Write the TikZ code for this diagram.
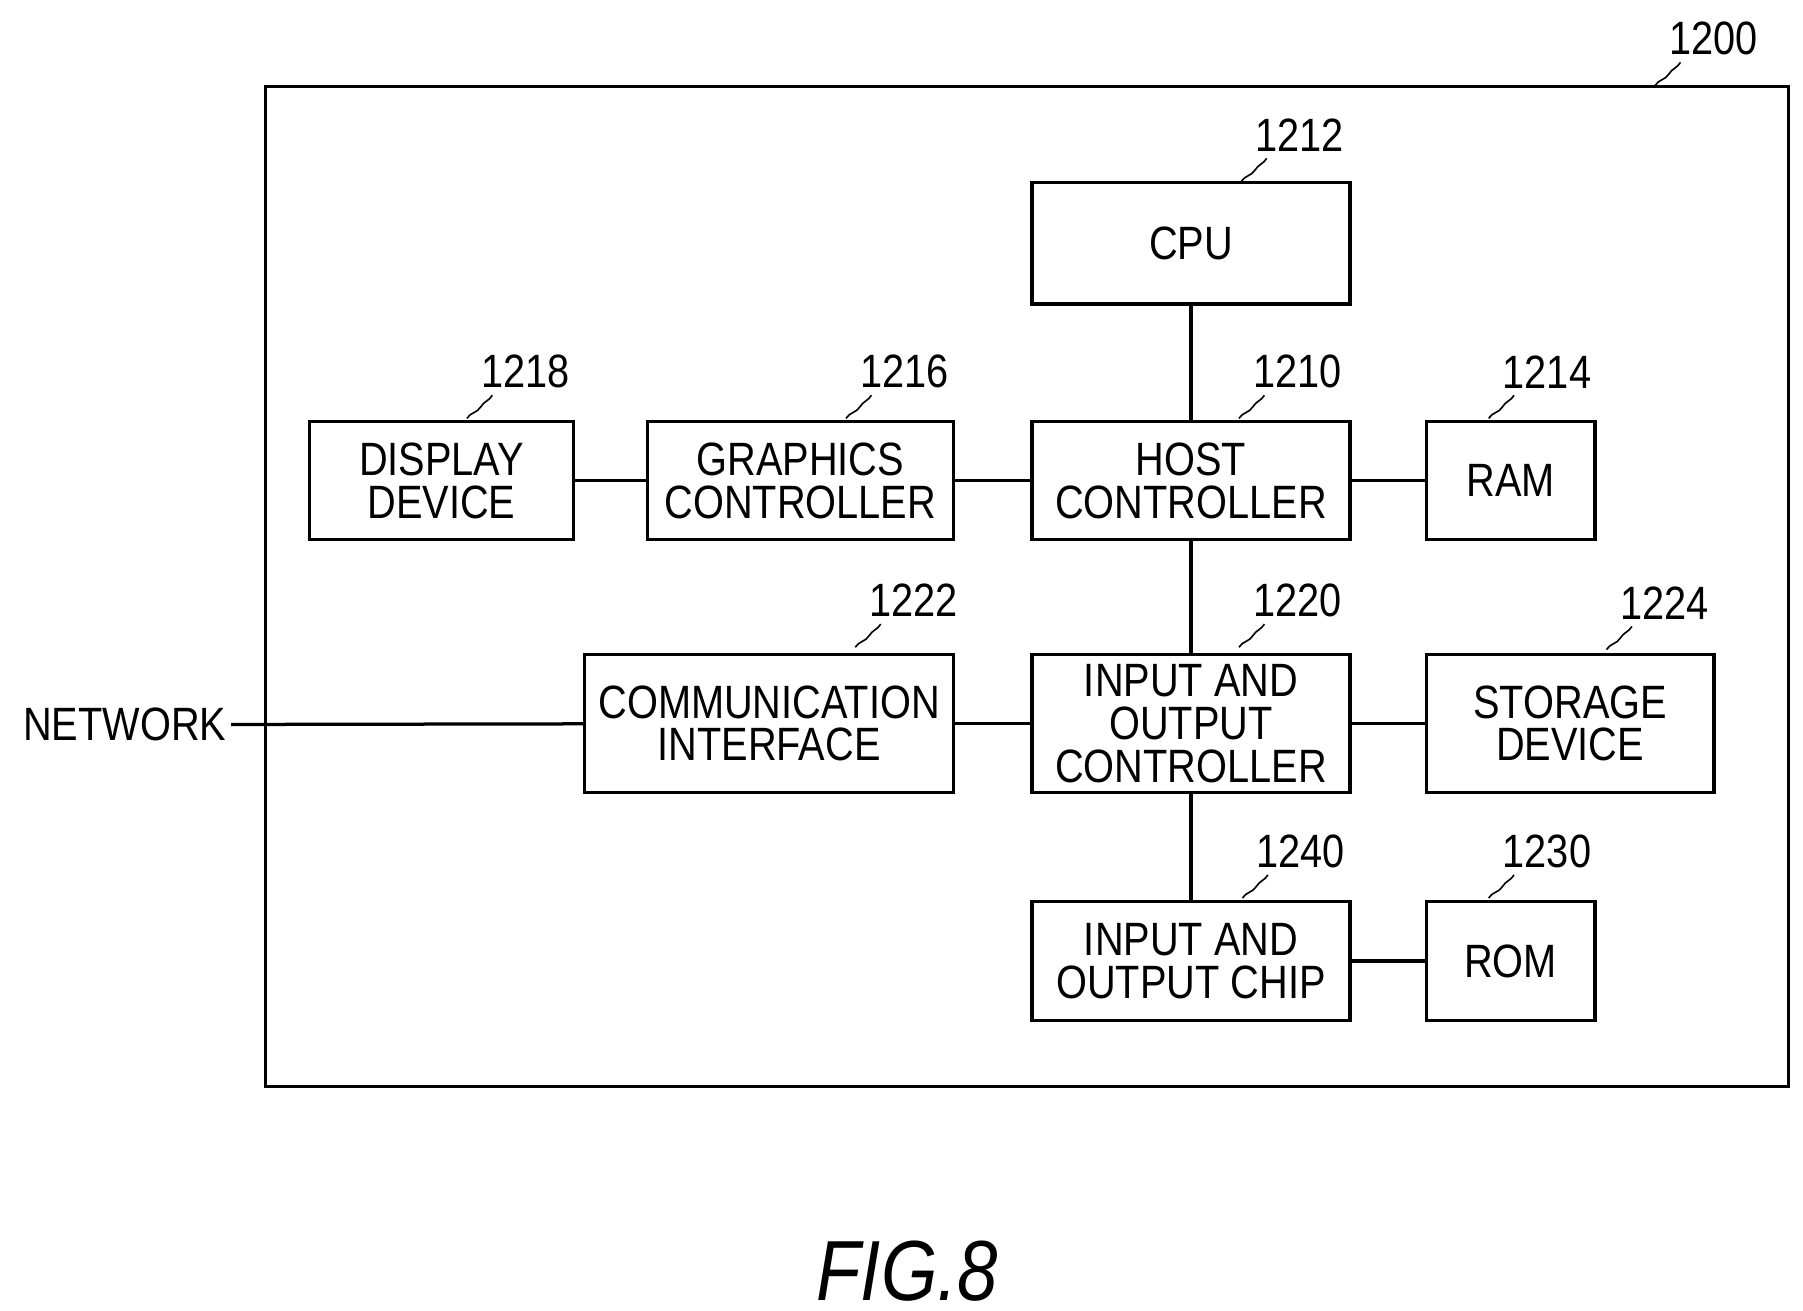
\documentclass[tikz,border=0pt]{standalone}
\usepackage{fontspec}
\setmainfont[FakeStretch=0.85]{Liberation Sans}
\tikzset{
  blk/.style={draw,thick,align=center,inner sep=0pt,font=\fontsize{11.5}{10.5}\selectfont},
  num/.style={font=\fontsize{11.5}{12}\selectfont,anchor=south west,inner sep=1pt},
}
% box from corners: name, x1, y1, x2, y2, text
\newcommand{\blkbox}[6]{%
  \node[blk,minimum width={(#4-#2)*0.01cm},minimum height={(#5-#3)*0.01cm}] (#1)
    at ({(#2+#4)/2},{(#3+#5)/2}) {#6};}
% reference numeral with wavy leader
\newcommand{\refnum}[3]{%
  \node[num] (n#1) at (#2,#3) {#1};
  \draw[thin] (n#1.south west) ++(14,2) to[out=-120,in=60] ++(-10,10) to[out=-120,in=60] ++(-12,10);}
\begin{document}
\begin{tikzpicture}[x=0.01cm,y=-0.01cm]
\useasboundingbox (0,0) rectangle (1560,1134);
\node[draw,thick,minimum width=13.17cm,minimum height=8.65cm,inner sep=0pt] (sys) at (888.5,507.5) {};
\refnum{1200}{1440}{52}
\blkbox{cpu}{893}{158}{1168}{263}{CPU}
\refnum{1212}{1082}{135}
\blkbox{disp}{268}{365}{496}{467}{DISPLAY\\DEVICE}
\refnum{1218}{412}{340}
\blkbox{gfx}{560}{365}{825}{467}{GRAPHICS\\CONTROLLER}
\refnum{1216}{740}{340}
\blkbox{host}{893}{365}{1168}{467}{HOST\\CONTROLLER}
\refnum{1210}{1080}{340}
\blkbox{ram}{1234}{365}{1380}{467}{RAM}
\refnum{1214}{1296}{340}
\blkbox{comm}{506}{566}{825}{686}{COMMUNICATION\\INTERFACE}
\refnum{1222}{748}{538}
\blkbox{ioc}{893}{566}{1168}{686}{INPUT AND\\OUTPUT\\CONTROLLER}
\refnum{1220}{1080}{538}
\blkbox{stor}{1234}{566}{1483}{686}{STORAGE\\DEVICE}
\refnum{1224}{1398}{540}
\blkbox{chip}{893}{780}{1168}{883}{INPUT AND\\OUTPUT CHIP}
\refnum{1240}{1083}{755}
\blkbox{rom}{1234}{780}{1380}{883}{ROM}
\refnum{1230}{1296}{755}
\node[font=\fontsize{11.5}{12}\selectfont,anchor=east,inner sep=1pt] (net) at (200,627) {NETWORK};
\draw[thick] (cpu) -- (host);
\draw[thick] (disp) -- (gfx);
\draw[thick] (gfx) -- (host);
\draw[thick] (host) -- (ram);
\draw[thick] (host) -- (ioc);
\draw[thick] (net) -- (comm);
\draw[thick] (comm) -- (ioc);
\draw[thick] (ioc) -- (stor);
\draw[thick] (ioc) -- (chip);
\draw[thick] (chip) -- (rom);
\node[font=\fontsize{21}{21}\selectfont\itshape] (fig) at (785,1100) {FIG.8};
\end{tikzpicture}
\end{document}
